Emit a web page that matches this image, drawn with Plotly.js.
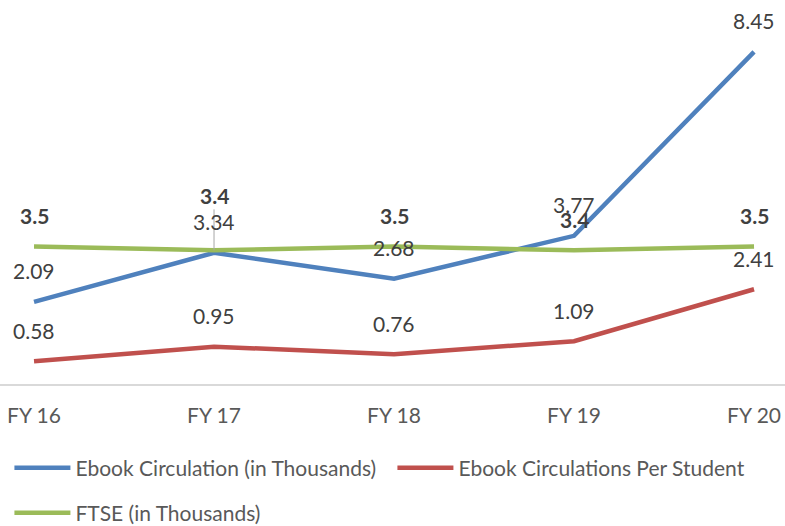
<!DOCTYPE html>
<html><head><meta charset="utf-8">
<script src="https://cdn.plot.ly/plotly-3.0.1.min.js"></script>
<style>html,body{margin:0;padding:0;background:#fff}#chart{width:785px;height:526px}</style>
</head><body><div id="chart"></div>
<script>
const categories = ["FY 16", "FY 17", "FY 18", "FY 19", "FY 20"];
const ebookCirculation = [2.09, 3.34, 2.68, 3.77, 8.45];
const ebookPerStudent = [0.58, 0.95, 0.76, 1.09, 2.41];
const ftse = [3.5, 3.4, 3.5, 3.4, 3.5];
const seriesNames = ["Ebook Circulation (in Thousands)", "Ebook Circulations Per Student", "FTSE (in Thousands)"];

const FONT = "Lato, 'Open Sans', sans-serif";
const colors = ["#4f81bd", "#c0504d", "#9bbb59"];

const traces = [
  {x: categories, y: ebookCirculation, name: seriesNames[0], mode: "lines", line: {color: colors[0], width: 4.5}, legend: "legend"},
  {x: categories, y: ebookPerStudent, name: seriesNames[1], mode: "lines", line: {color: colors[1], width: 4.5}, legend: "legend"},
  {x: categories, y: ftse, name: seriesNames[2], mode: "lines", line: {color: colors[2], width: 4.5}, legend: "legend2"}
];

const annotations = [];
function addLabels(vals) {
  vals.forEach((v, i) => {
    annotations.push({x: categories[i], y: v, xref: "x", yref: "y", text: String(v),
      showarrow: false, yshift: 31, xanchor: "center", yanchor: "middle",
      font: {family: FONT, size: 21, color: "#404040"}});
  });
}
ftse.forEach((v, i) => {
  const a = {x: categories[i], y: v, xref: "x", yref: "y", text: "<b>" + v + "</b>",
    font: {family: FONT, size: 21, color: "#404040"}};
  if (i === 1) {
    Object.assign(a, {showarrow: true, ax: 0, ay: -55, arrowhead: 0, arrowwidth: 1, arrowcolor: "#a6a6a6", standoff: 0});
  } else {
    Object.assign(a, {showarrow: false, yshift: 31, xanchor: "center", yanchor: "middle"});
  }
  annotations.push(a);
});
addLabels(ebookCirculation);
addLabels(ebookPerStudent);

const legendFont = {family: FONT, size: 21, color: "#595959"};
const layout = {
  width: 785, height: 526,
  margin: {l: 0, r: 0, t: 0, b: 142, autoexpand: false},
  paper_bgcolor: "#ffffff", plot_bgcolor: "#ffffff",
  xaxis: {type: "category", range: [-0.189, 4.172], showgrid: false, zeroline: false,
    showline: true, linecolor: "#d9d9d9", linewidth: 1.5, ticks: "", ticklabelstandoff: 12,
    tickfont: {family: FONT, size: 21, color: "#595959"}, automargin: false, fixedrange: true},
  yaxis: {range: [0, 9.77], visible: false, fixedrange: true},
  showlegend: true,
  legend: {orientation: "h", x: 0.012, xanchor: "left", y: -0.21875, yanchor: "middle",
    font: legendFont, itemwidth: 56, entrywidth: 312, bgcolor: "rgba(0,0,0,0)"},
  legend2: {orientation: "h", x: 0.012, xanchor: "left", y: -0.336, yanchor: "middle",
    font: legendFont, itemwidth: 56, bgcolor: "rgba(0,0,0,0)"},
  annotations: annotations
};

Plotly.newPlot("chart", traces, layout, {staticPlot: true, displayModeBar: false});
</script></body></html>
